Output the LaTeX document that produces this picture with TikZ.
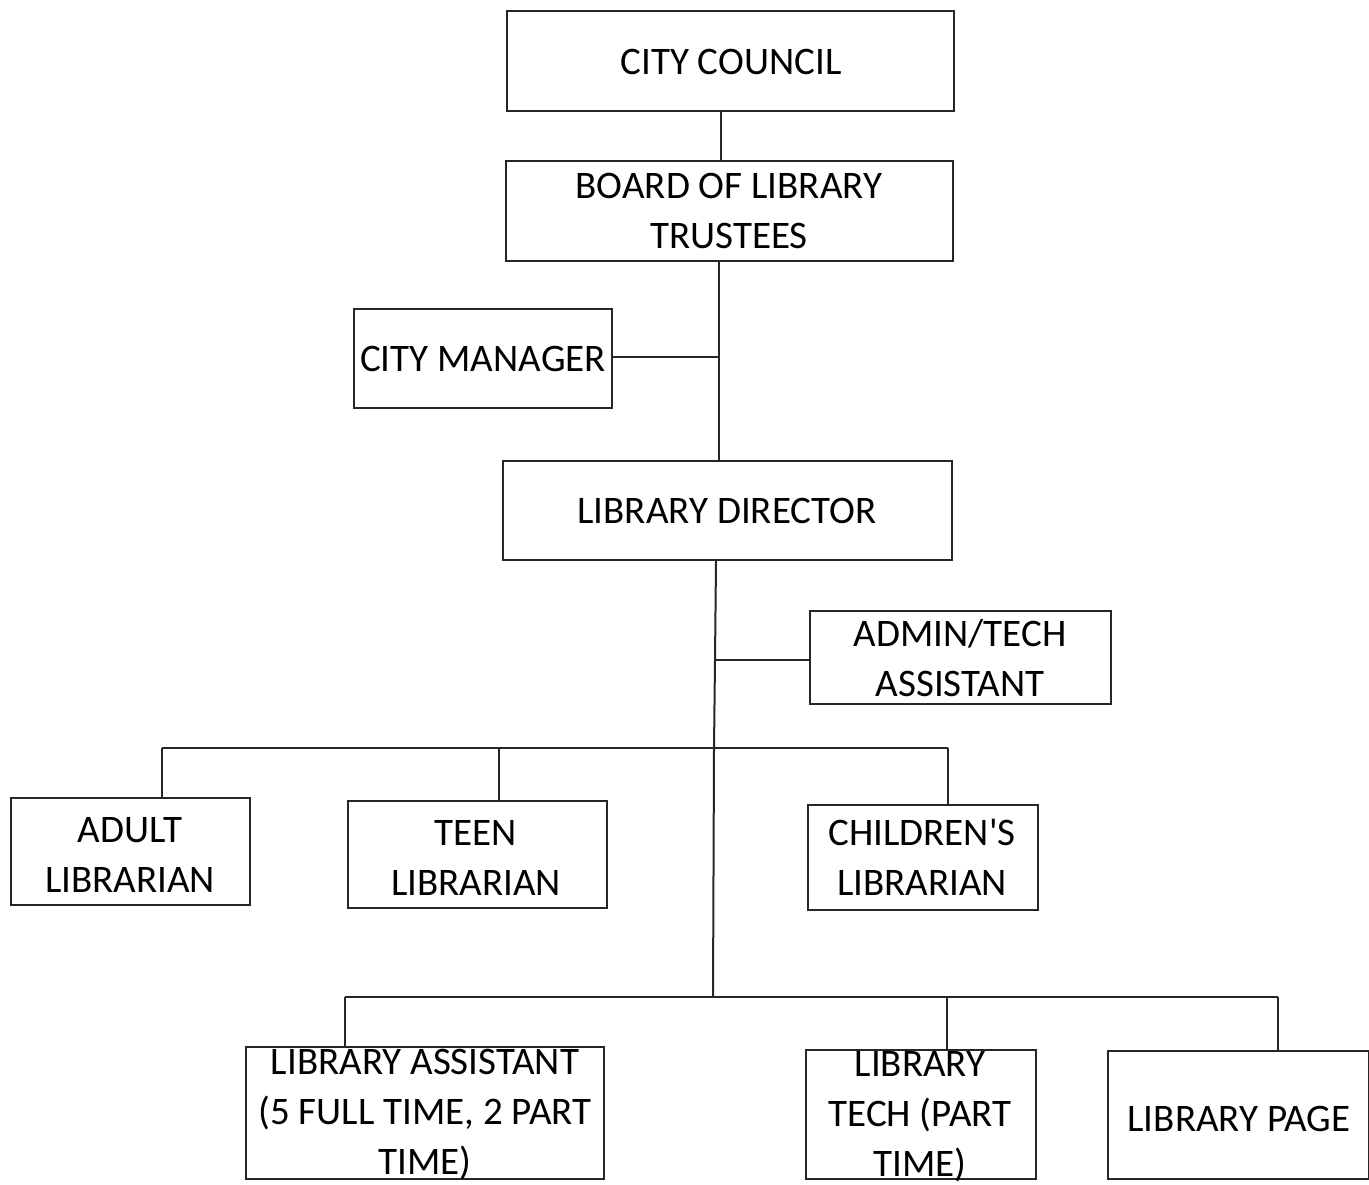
\documentclass[tikz,border=0pt]{standalone}
\usepackage{fontspec}
\setmainfont{Carlito}[Ligatures=TeXOff]
\begin{document}
\begin{tikzpicture}[x=0.5pt,y=-0.5pt,
  box/.style={draw=black!85,line width=1pt,inner sep=0pt,anchor=north west},
  lbl/.style={font=\fontsize{19.5}{25}\selectfont,align=center,text=black,inner sep=0pt},
  conn/.style={draw=black!85,line width=1pt}]
\useasboundingbox[fill=white] (0,0) rectangle (1369,1184);
% boxes
\node[box,minimum width=223.5pt,minimum height=50pt] (cc) at (506,10) {};
\node[box,minimum width=223.5pt,minimum height=50pt] (bt) at (505,160) {};
\node[box,minimum width=129pt,minimum height=49.5pt] (cm) at (353,308) {};
\node[box,minimum width=224.5pt,minimum height=49.5pt] (ld) at (502,460) {};
\node[box,minimum width=150.5pt,minimum height=46.5pt] (at) at (809,610) {};
\node[box,minimum width=119.5pt,minimum height=53.5pt] (al) at (10,797) {};
\node[box,minimum width=129.5pt,minimum height=53.5pt] (tl) at (347,800) {};
\node[box,minimum width=115pt,minimum height=52.5pt] (chl) at (807,804) {};
\node[box,minimum width=179pt,minimum height=66pt] (la) at (245,1046) {};
\node[box,minimum width=115pt,minimum height=64.5pt] (lt) at (805,1049) {};
\node[box,minimum width=130.5pt,minimum height=64pt] (lp) at (1107,1050) {};
% labels
\node[lbl] (tcc) at (731,62) {CITY COUNCIL};
\node[lbl] (tbt) at (729,211) {BOARD OF LIBRARY\\TRUSTEES};
\node[lbl] (tcm) at (483,359) {CITY MANAGER};
\node[lbl] (tld) at (727,511) {LIBRARY DIRECTOR};
\node[lbl] (tat) at (960,658) {ADMIN/TECH\\ASSISTANT};
\node[lbl] (tal) at (130,855) {ADULT\\LIBRARIAN};
\node[lbl] (ttl) at (476,858) {TEEN\\LIBRARIAN};
\node[lbl] (tchl) at (922,857) {CHILDREN'S\\LIBRARIAN};
\node[lbl] (tla) at (425,1115) {LIBRARY ASSISTANT\\(5 FULL TIME, 2 PART\\TIME)};
\node[lbl] (tlt) at (920,1117) {LIBRARY\\TECH (PART\\TIME)};
\node[lbl] (tlp) at (1239,1119) {LIBRARY PAGE};
% junction coordinates
\coordinate (j1) at (719,357);
\coordinate (j2) at (715,660);
\coordinate (b1) at (714,748);
\coordinate (b1l) at (162,748);
\coordinate (b1m) at (499,748);
\coordinate (b1r) at (948,748);
\coordinate (b2) at (713,997);
\coordinate (b2l) at (345,997);
\coordinate (b2m) at (947,997);
\coordinate (b2r) at (1278,997);
% connectors
\draw[conn] (cc.south -| 721,0) -- (bt.north -| 721,0);
\draw[conn] (bt.south -| j1) -- (ld.north -| j1);
\draw[conn] (cm.east |- j1) -- (j1);
\draw[conn] (ld.south -| 716,0) -- (j2) -- (b1) -- (b2);
\draw[conn] (j2) -- (at.west |- j2);
\draw[conn] (b1l) -- (b1r);
\draw[conn] (b1l) -- (al.north -| b1l);
\draw[conn] (b1m) -- (tl.north -| b1m);
\draw[conn] (b1r) -- (chl.north -| b1r);
\draw[conn] (b2l) -- (b2r);
\draw[conn] (b2l) -- (la.north -| b2l);
\draw[conn] (b2m) -- (lt.north -| b2m);
\draw[conn] (b2r) -- (lp.north -| b2r);
\end{tikzpicture}
\end{document}
